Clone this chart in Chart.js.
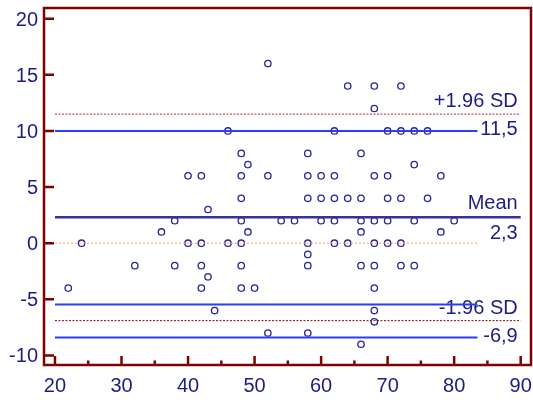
<!DOCTYPE html>
<html>
<head>
<meta charset="utf-8">
<script src="https://cdn.jsdelivr.net/npm/chart.js@4"></script>
<style>
  html, body { margin: 0; padding: 0; background: #fff; }
  #wrap { width: 533px; height: 400px; }
</style>
</head>
<body>
<div id="wrap"><canvas id="chart" width="533" height="400"></canvas></div>
<script>
// points: average of methods (x) vs difference (y)
const avgX = [22, 24, 32, 36, 38, 38, 40, 40, 42, 42, 42, 42, 43, 43, 44, 46, 46,
  48, 48, 48, 48, 48, 48, 48, 49, 49, 50, 52, 52, 52, 54, 56,
  58, 58, 58, 58, 58, 58, 58, 60, 60, 60, 62, 62, 62, 62, 62, 64, 64, 64,
  66, 66, 66, 66, 66, 66, 68, 68, 68, 68, 68, 68, 68, 68, 68,
  70, 70, 70, 70, 70, 72, 72, 72, 72, 72, 74, 74, 74, 74, 76, 76, 78, 78, 80];
const diffY = [-4, 0, -2, 1, 2, -2, 6, 0, 6, 0, -2, -4, 3, -3, -6, 10, 0,
  8, 6, 4, 2, 0, -2, -4, 7, 1, -4, 16, 6, -8, 2, 2,
  8, 6, 4, 0, -1, -2, -8, 6, 4, 2, 10, 6, 4, 2, 0, 14, 4, 0,
  8, 4, 2, 1, -2, -9, 14, 12, 6, 2, 0, -2, -4, -6, -7,
  10, 6, 4, 2, 0, 14, 10, 4, 0, -2, 10, 7, 2, -2, 10, 4, 6, 1, 2];

const meanDiff = 2.3;
const upperLoA = 11.5;
const lowerLoA = -6.9;
const blueLines = [10, -5.45, -8.4];
const fullSpan = [20, 90];
const shortSpan = [20, 83.5];

const xTicks = [20, 30, 40, 50, 60, 70, 80, 90];
const xMinorTicks = [25, 35, 45, 55, 65, 75, 85];
const yTicks = [-10, -5, 0, 5, 10, 15, 20];

const labels = [
  { text: '+1.96 SD', value: upperLoA, dy: -7 },
  { text: '11,5', value: upperLoA, dy: 21 },
  { text: 'Mean', value: meanDiff, dy: -8 },
  { text: '2,3', value: meanDiff, dy: 21.5 },
  { text: '-1.96 SD', value: lowerLoA, dy: -7 },
  { text: '-6,9', value: lowerLoA, dy: 21.5 }
];

const navy = '#1c1c84';
const axisRed = '#800000';
const fontFam = '"Liberation Sans", Arial, sans-serif';

function hLine(y, span) {
  return span.map(x => ({ x, y }));
}

const points = avgX.map((x, i) => ({ x, y: diffY[i] }));

const datasets = [
  { type: 'line', data: hLine(0, shortSpan), borderColor: '#ffa060', borderWidth: 1, borderDash: [2, 2], pointRadius: 0 },
  { type: 'line', data: hLine(upperLoA, fullSpan), borderColor: '#a52a2a', borderWidth: 1, borderDash: [2, 1.5], pointRadius: 0 },
  { type: 'line', data: hLine(lowerLoA, fullSpan), borderColor: '#8b0000', borderWidth: 1, borderDash: [2, 1.5], pointRadius: 0 },
  { type: 'line', data: hLine(meanDiff, fullSpan), borderColor: '#333399', borderWidth: 2.5, pointRadius: 0 }
];
blueLines.forEach(v => {
  datasets.push({ type: 'line', data: hLine(v, shortSpan), borderColor: '#2a3cff', borderWidth: 2, pointRadius: 0 });
});
datasets.push({
  type: 'scatter',
  data: points,
  pointStyle: 'circle',
  pointRadius: 3.2,
  borderWidth: 1.3,
  borderColor: '#25259a',
  backgroundColor: 'rgba(0,0,0,0)'
});

const textPlugin = {
  id: 'lineText',
  beforeDatasetsDraw(chart) {
    const { ctx, scales } = chart;
    const xr = scales.x.getPixelForValue(fullSpan[1]) - 3;
    ctx.save();
    ctx.fillStyle = navy;
    ctx.font = '20px ' + fontFam;
    ctx.textAlign = 'right';
    ctx.textBaseline = 'alphabetic';
    labels.forEach(l => {
      ctx.fillText(l.text, xr, scales.y.getPixelForValue(l.value) + l.dy);
    });
    ctx.restore();
  }
};

const framePlugin = {
  id: 'frame',
  afterDraw(chart) {
    const { ctx, chartArea: a, scales } = chart;
    ctx.save();
    ctx.strokeStyle = axisRed;
    ctx.lineWidth = 2.5;
    ctx.strokeRect(a.left, a.top, a.right - a.left, a.bottom - a.top);
    ctx.beginPath();
    yTicks.forEach(v => {
      const y = scales.y.getPixelForValue(v);
      ctx.moveTo(a.left, y);
      ctx.lineTo(a.left + 10, y);
    });
    xTicks.forEach(v => {
      const x = scales.x.getPixelForValue(v);
      ctx.moveTo(x, a.bottom);
      ctx.lineTo(x, a.bottom - 9);
    });
    xMinorTicks.forEach(v => {
      const x = scales.x.getPixelForValue(v);
      ctx.moveTo(x, a.bottom);
      ctx.lineTo(x, a.bottom - 4.5);
    });
    ctx.stroke();
    ctx.restore();
  }
};

new Chart(document.getElementById('chart').getContext('2d'), {
  type: 'scatter',
  data: { datasets },
  plugins: [textPlugin, framePlugin],
  options: {
    responsive: false,
    animation: false,
    layout: { autoPadding: false, padding: { top: 8, right: 2, left: 0, bottom: 0 } },
    plugins: { legend: { display: false }, tooltip: { enabled: false } },
    scales: {
      x: {
        type: 'linear',
        min: 18.35,
        max: 91.55,
        afterFit: s => { s.height = 35; s.paddingLeft = 0; s.paddingRight = 0; },
        afterBuildTicks: s => { s.ticks = xTicks.map(v => ({ value: v })); },
        grid: { display: false, drawTicks: false },
        border: { display: false },
        ticks: { color: navy, font: { size: 20, family: fontFam }, padding: 9, maxRotation: 0 }
      },
      y: {
        type: 'linear',
        min: -10.85,
        max: 20.95,
        afterFit: s => { s.width = 44; s.paddingTop = 0; s.paddingBottom = 0; },
        afterBuildTicks: s => { s.ticks = yTicks.map(v => ({ value: v })); },
        grid: { display: false, drawTicks: false },
        border: { display: false },
        ticks: { color: navy, font: { size: 20, family: fontFam }, padding: 6, labelOffset: 1.5 }
      }
    }
  }
});
</script>
</body>
</html>
